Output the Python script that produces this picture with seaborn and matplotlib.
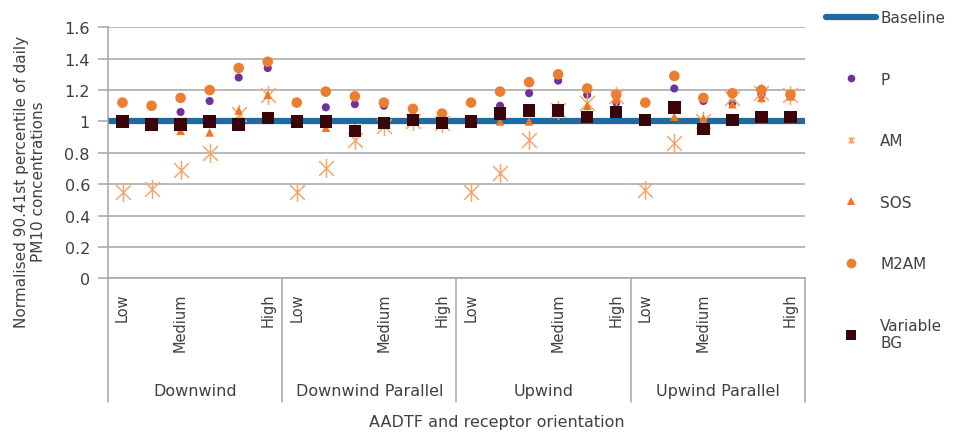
import numpy as np
import pandas as pd
import matplotlib
matplotlib.use("Agg")
import matplotlib.pyplot as plt
import matplotlib.transforms as mtransforms
from matplotlib.path import Path
from matplotlib.lines import Line2D
import seaborn as sns

# ---------------- data ----------------
orientations = ["Downwind", "Downwind Parallel", "Upwind", "Upwind Parallel"]
level_labels = [
    ["Low", "", "Medium", "", "", "High"],
    ["Low", "", "", "Medium", "", "High"],
    ["Low", "", "", "Medium", "", "High"],
    ["Low", "", "Medium", "", "", "High"],
]
BASELINE = 1.0

P = [1.00, 0.98, 1.06, 1.13, 1.28, 1.34,
     1.00, 1.09, 1.11, 1.10, 1.03, 1.02,
     1.00, 1.10, 1.18, 1.26, 1.17, 1.12,
     1.01, 1.21, 1.13, 1.12, 1.17, 1.16]
AM = [0.55, 0.57, 0.69, 0.80, 1.05, 1.17,
      0.55, 0.70, 0.88, 0.97, 1.00, 0.99,
      0.55, 0.67, 0.88, 1.07, 1.12, 1.16,
      0.56, 0.86, 1.00, 1.15, 1.18, 1.17]
SOS = [1.00, 0.98, 0.94, 0.93, 1.07, 1.17,
       1.00, 0.96, 0.96, 1.00, 1.01, 1.00,
       1.00, 1.00, 1.00, 1.08, 1.10, 1.14,
       1.01, 1.03, 1.02, 1.11, 1.15, 1.16]
M2AM = [1.12, 1.10, 1.15, 1.20, 1.34, 1.38,
        1.12, 1.19, 1.16, 1.12, 1.08, 1.05,
        1.12, 1.19, 1.25, 1.30, 1.21, 1.17,
        1.12, 1.29, 1.15, 1.18, 1.20, 1.17]
VBG = [1.00, 0.98, 0.98, 1.00, 0.98, 1.02,
       1.00, 1.00, 0.94, 0.99, 1.01, 0.99,
       1.00, 1.05, 1.07, 1.07, 1.03, 1.06,
       1.01, 1.09, 0.95, 1.01, 1.03, 1.03]

yticks = [0, 0.2, 0.4, 0.6, 0.8, 1, 1.2, 1.4, 1.6]
ytick_labels = ["0", "0.2", "0.4", "0.6", "0.8", "1", "1.2", "1.4", "1.6"]

# ---------------- build table ----------------
n_per = len(level_labels[0])
df = pd.DataFrame({
    "pos": np.arange(len(P)),
    "orientation": np.repeat(orientations, n_per),
    "level": sum(level_labels, []),
    "P": P, "AM": AM, "SOS": SOS, "M2AM": M2AM, "Variable BG": VBG,
})

sns.set_style("white")
plt.rcParams["font.family"] = ["DejaVu Sans"]
TXT = "#404040"
GRID = "#A6A6A6"

fig = plt.figure(figsize=(9.54, 4.35), dpi=100)
W, H = 954, 435
ax = fig.add_axes([108 / W, 1 - 279.3 / H, (805 - 108) / W, (279.3 - 28.3) / H])

# star marker (x with vertical bar) like Excel
star = Path([(-1, -1), (1, 1), (-1, 1), (1, -1), (0, -1.3), (0, 1.3)],
            [Path.MOVETO, Path.LINETO, Path.MOVETO, Path.LINETO, Path.MOVETO, Path.LINETO])

c_base = "#1F6A9E"
c_p = "#7030A0"
c_am = "#F2A86E"
c_sos = "#EE7522"
c_m2 = "#EC7D31"
c_vbg = "#3A0508"

ax.axhline(BASELINE, color=c_base, lw=4.5, zorder=2, solid_capstyle="butt")
sns.scatterplot(data=df, x="pos", y="P", ax=ax, color=c_p, marker="o", s=34,
                edgecolor="none", zorder=3)
sns.scatterplot(data=df, x="pos", y="AM", ax=ax, color=c_am, edgecolor=c_am,
                marker=star, s=190, linewidth=1.1, zorder=4)
sns.scatterplot(data=df, x="pos", y="SOS", ax=ax, color=c_sos, marker="^", s=38,
                edgecolor="none", zorder=5)
sns.scatterplot(data=df, x="pos", y="M2AM", ax=ax, color=c_m2, marker="o", s=58,
                edgecolor="none", zorder=6)
sns.scatterplot(data=df, x="pos", y="Variable BG", ax=ax, color=c_vbg, marker="s", s=80,
                edgecolor="none", zorder=7)

# axes styling
ax.set_xlim(-0.5, len(P) - 0.5)
ax.set_ylim(0, 1.6)
ax.set_yticks(yticks)
ax.set_yticklabels(ytick_labels)
ax.grid(axis="y", color=GRID, lw=1.1)
ax.grid(axis="x", visible=False)
for s in ["top", "right"]:
    ax.spines[s].set_visible(False)
ax.spines["left"].set_color(GRID)
ax.spines["bottom"].set_color(GRID)
ax.spines["left"].set_linewidth(1.1)
ax.spines["bottom"].set_linewidth(1.1)
ax.tick_params(axis="y", length=7, width=1.1, color=GRID, labelsize=11.5,
               labelcolor=TXT, pad=6, left=True)
ax.set_xticks(df["pos"])
ax.set_xticklabels(df["level"], rotation=90, va="top", ha="center")
ax.tick_params(axis="x", length=0, labelsize=10.5, labelcolor=TXT, pad=10)
ax.set_xlabel("")
ax.set_ylabel("")

# group separators and group labels
trans = mtransforms.blended_transform_factory(ax.transData, ax.transAxes)
bottom_y = -(403 - 279.3) / (279.3 - 28.3)
for b in np.arange(-0.5, len(P), n_per):
    ax.plot([b, b], [0, bottom_y], transform=trans, color=GRID, lw=1.1,
            clip_on=False, zorder=1)
label_y = -(392 - 279.3) / (279.3 - 28.3)
for i, name in enumerate(orientations):
    center = df.loc[df["orientation"] == name, "pos"].mean()
    ax.text(center, label_y, name, transform=trans, ha="center", va="center",
            fontsize=11.5, color=TXT)

fig.text(497 / W, 1 - 423 / H, "AADTF and receptor orientation", ha="center",
         va="center", fontsize=11.5, color=TXT)
fig.text(30 / W, 1 - 182 / H,
         "Normalised 90.41st percentile of daily\nPM10 concentrations",
         rotation=90, ha="center", va="center", multialignment="center",
         fontsize=11, color=TXT, linespacing=1.2)

# legend
handles = [
    Line2D([], [], color=c_base, lw=4.5),
    Line2D([], [], color=c_p, marker="o", ls="none", markersize=5.5, markeredgewidth=0),
    Line2D([], [], color=c_am, marker=star, ls="none", markersize=5,
           markeredgewidth=1.2, markeredgecolor=c_am),
    Line2D([], [], color=c_sos, marker="^", ls="none", markersize=5.5, markeredgewidth=0),
    Line2D([], [], color=c_m2, marker="o", ls="none", markersize=7, markeredgewidth=0),
    Line2D([], [], color=c_vbg, marker="s", ls="none", markersize=7, markeredgewidth=0),
]
labels = ["Baseline", "P", "AM", "SOS", "M2AM", "Variable\nBG"]
leg = fig.legend(handles, labels, loc="upper left",
                 bbox_to_anchor=(826 / W, 1 - 11 / H), frameon=False,
                 fontsize=11, handlelength=3.3, handletextpad=0.25,
                 labelspacing=3.05, borderpad=0, borderaxespad=0)
for t in leg.get_texts():
    t.set_color(TXT)

fig.savefig("out.png", dpi=100)
